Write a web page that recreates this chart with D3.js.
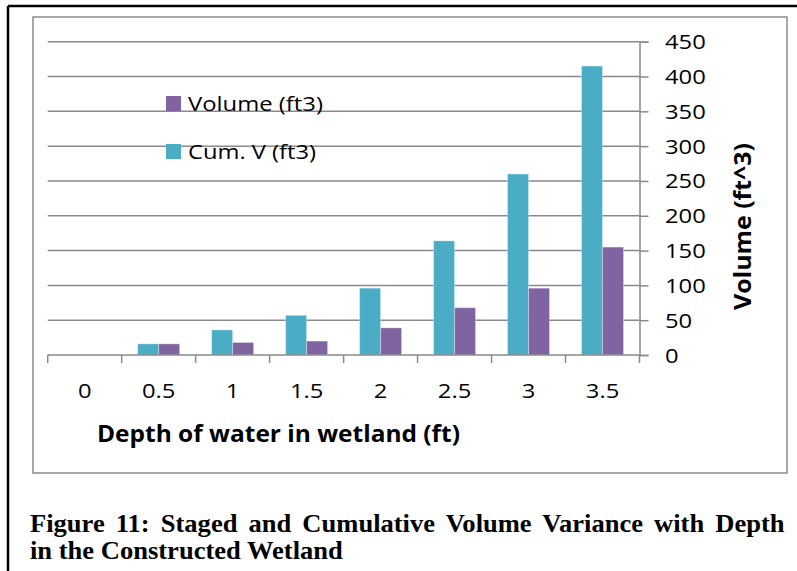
<!DOCTYPE html>
<html>
<head>
<meta charset="utf-8">
<script src="https://cdn.jsdelivr.net/npm/d3@7"></script>
<style>
  body { margin: 0; background: #fff; }
  svg { display: block; }
  .lbl { font-family: "Open Sans", sans-serif; font-size: 19.5px; fill: #000; }
  .leg { font-family: "Open Sans", sans-serif; font-size: 20.5px; fill: #000; }
  .ttl { font-family: "Open Sans", sans-serif; font-size: 23px; font-weight: bold; fill: #000; }
  .cap { font-family: "Liberation Serif", "Times New Roman", serif; font-size: 24.5px; font-weight: bold; fill: #000; }
</style>
</head>
<body>
<svg id="chart" width="797" height="571"></svg>
<script>
// data
const depths = ["0", "0.5", "1", "1.5", "2", "2.5", "3", "3.5"];
const cumVolume = [0, 16, 36, 57, 96, 164, 260, 415];
const stageVolume = [0, 16, 18, 20, 39, 68, 96, 155];
const yTicks = [0, 50, 100, 150, 200, 250, 300, 350, 400, 450];
const seriesNames = ["Volume (ft3)", "Cum. V (ft3)"];
const captionLines = ["Figure 11: Staged and Cumulative Volume Variance with Depth",
  "in the Constructed Wetland"];

const svg = d3.select("#chart");
const stretch = 1.22; // the source picture is wider than its fonts

// outer page frame (top + left only)
svg.append("line").attr("x1", 8).attr("x2", 797).attr("y1", 6).attr("y2", 6)
  .attr("stroke", "#000").attr("stroke-width", 2.5);
svg.append("line").attr("x1", 8).attr("x2", 8).attr("y1", 6).attr("y2", 571)
  .attr("stroke", "#000").attr("stroke-width", 2.5);

// chart area border
svg.append("rect").attr("x", 33).attr("y", 17).attr("width", 754).attr("height", 456)
  .attr("fill", "none").attr("stroke", "#8a8a8a").attr("stroke-width", 1.5);

const x0 = d3.scaleBand().domain(depths).range([47.7, 639.5]);
const x1 = d3.scaleBand().domain(["cum", "vol"])
  .range([x0.bandwidth() * 0.216, x0.bandwidth() * 0.784]);
const y = d3.scaleLinear().domain([0, 450]).range([355, 41.7]);
const colors = { cum: "#4BACC6", vol: "#8064A2" };

// gridlines
svg.append("g").selectAll("line").data(yTicks.slice(1)).join("line")
  .attr("x1", 47.7).attr("x2", 639.5)
  .attr("y1", d => y(d)).attr("y2", d => y(d))
  .attr("stroke", "#8a8a8a").attr("stroke-width", 1.5);

// bars
const rows = depths.map((d, i) => ({ depth: d, cum: cumVolume[i], vol: stageVolume[i] }));
const groups = svg.append("g").selectAll("g").data(rows).join("g")
  .attr("transform", d => `translate(${x0(d.depth)},0)`);
groups.selectAll("rect").data(d => ["cum", "vol"].map(k => ({ k, v: d[k] })))
  .join("rect")
  .attr("x", d => x1(d.k))
  .attr("width", x1.bandwidth())
  .attr("y", d => y(d.v))
  .attr("height", d => y(0) - y(d.v))
  .attr("fill", d => colors[d.k])
  .attr("stroke", "#fff").attr("stroke-opacity", 0.35).attr("stroke-width", 1);

// right value axis
const yAxis = svg.append("g").attr("transform", "translate(639.5,0)")
  .call(d3.axisRight(y).tickValues(yTicks).tickSize(9).tickFormat(d3.format("d")));
yAxis.select(".domain").attr("stroke", "#8a8a8a").attr("stroke-width", 1.5);
yAxis.selectAll(".tick line").attr("stroke", "#8a8a8a").attr("stroke-width", 1.5);
yAxis.selectAll(".tick text")
  .attr("class", "lbl").attr("font-size", null).attr("font-family", null)
  .attr("x", null).attr("dy", null)
  .attr("transform", `translate(25.5,7) scale(${stretch},1)`);

// bottom category axis (ticks between categories)
const xAxis = svg.append("g").attr("transform", `translate(0,${y(0)})`);
xAxis.append("line").attr("x1", 47.7).attr("x2", 639.5)
  .attr("stroke", "#8a8a8a").attr("stroke-width", 1.5);
xAxis.selectAll("line.tk").data(depths.concat(["end"])).join("line").attr("class", "tk")
  .attr("x1", (d, i) => i < depths.length ? x0(d) : x0.range()[1])
  .attr("x2", (d, i) => i < depths.length ? x0(d) : x0.range()[1])
  .attr("y1", 0).attr("y2", 8)
  .attr("stroke", "#8a8a8a").attr("stroke-width", 1.5);
xAxis.selectAll("text").data(depths).join("text")
  .attr("class", "lbl").attr("text-anchor", "middle")
  .attr("transform", d => `translate(${x0(d) + x0.bandwidth() / 2},43) scale(${stretch},1)`)
  .text(d => d);

// axis titles
svg.append("text").attr("class", "ttl").attr("text-anchor", "middle")
  .attr("x", 278.5).attr("y", 441.5)
  .attr("textLength", 363).attr("lengthAdjust", "spacingAndGlyphs")
  .text("Depth of water in wetland (ft)");
svg.append("text").attr("class", "ttl").attr("text-anchor", "middle")
  .attr("transform", "translate(751,226.5) rotate(-90)")
  .attr("textLength", 167).attr("lengthAdjust", "spacingAndGlyphs")
  .text("Volume (ft^3)");

// legend
const legend = svg.append("g");
const legendKeys = ["vol", "cum"];
const legendWidths = [135, 128];
legendKeys.forEach((k, i) => {
  const ly = 96 + i * 48;
  legend.append("rect").attr("x", 166).attr("y", ly).attr("width", 15).attr("height", 15)
    .attr("fill", colors[k]);
  legend.append("text").attr("class", "leg").attr("x", 188).attr("y", ly + 14.5)
    .attr("textLength", legendWidths[i]).attr("lengthAdjust", "spacingAndGlyphs")
    .text(seriesNames[i]);
});

// caption: second line sets the glyph stretch, first line is justified
const cap2 = svg.append("text").attr("class", "cap").text(captionLines[1]);
const capScale = 313 / cap2.node().getComputedTextLength();
cap2.attr("transform", `translate(30,559) scale(${capScale},1)`);
const cap1 = svg.append("text").attr("class", "cap").text(captionLines[0]);
const nat1 = cap1.node().getComputedTextLength();
const spaces = captionLines[0].split(" ").length - 1;
cap1.attr("word-spacing", (755 / capScale - nat1) / spaces)
  .attr("transform", `translate(30,531.5) scale(${capScale},1)`);
</script>
</body>
</html>
